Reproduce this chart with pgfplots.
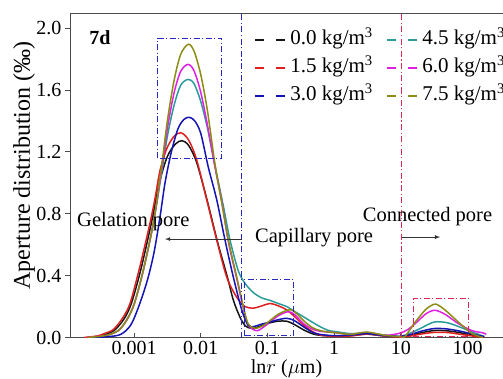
\documentclass[border=0pt]{standalone}
\usepackage{pgfplots}
\pgfplotsset{compat=1.18}
\usepackage{fontspec}
\setmainfont{Liberation Serif}
\definecolor{cBlack}{HTML}{151515}
\definecolor{cRed}{HTML}{E0201E}
\definecolor{cBlue}{HTML}{1414B4}
\definecolor{cTeal}{HTML}{2A9A9A}
\definecolor{cMag}{HTML}{E020E0}
\definecolor{cOlive}{HTML}{8C8C14}
\definecolor{cVBlue}{HTML}{2828C0}
\definecolor{cVRed}{HTML}{E02858}
\begin{document}
\begin{tikzpicture}
\useasboundingbox (-70pt,-40.5pt) rectangle (433pt,337.5pt);
\begin{axis}[
  at={(0,0)}, anchor=south west,
  width=433pt, height=324.5pt, scale only axis,
  xmin=-3.96, xmax=2.532, ymin=0, ymax=2.097,
  axis x line*=bottom, axis y line*=left,
  axis line style={-, draw=black!70, line width=0.8pt},
  xtick={-3,-2,-1,0,1,2},
  xticklabels={0.001,0.01,0.1,1,10,100},
  ytick={0,0.4,0.8,1.2,1.6,2.0},
  yticklabel style={/pgf/number format/.cd, fixed, fixed zerofill, precision=1, assume math mode=true},
  tick label style={font=\fontsize{20}{20}\selectfont},
  x tick style={draw=black!70, line width=0.8pt},
  y tick style={draw=black!70, line width=0.8pt},
  xtick align=inside, ytick align=outside,
  major tick length=5pt,
  xlabel={ln$r$ ($\mu$m)},
  xlabel style={font=\fontsize{20}{20}\selectfont, at={(axis description cs:0.5,-0.096)}, anchor=center},
  ylabel={Aperture distribution (‰)},
  ylabel style={font=\fontsize{24}{24}\selectfont, at={(axis description cs:-0.106,0.53)}, anchor=center},
  every axis plot/.append style={line width=1.5pt, smooth, tension=0.5},
  legend columns=2,
  legend style={draw=none, fill=none, at={(axis description cs:0.418,0.956)}, anchor=north west,
    font=\fontsize{21}{21}\selectfont,
    nodes={inner sep=1.5pt, text height=14pt, text depth=4pt},
    row sep=7pt,
    /tikz/every odd column/.style={column sep=3pt},
    /tikz/every even column/.style={column sep=12pt}},
  legend cell align=left,
  legend image code/.code={\draw[#1, solid, dash pattern=on 9pt off 12pt, line width=1.6pt] (0pt,0pt) -- (30pt,0pt);},
]
\addlegendimage{draw=cBlack}
\addlegendentry{0.0 kg/m\textsuperscript{3}}
\addlegendimage{draw=cTeal}
\addlegendentry{4.5 kg/m\textsuperscript{3}}
\addlegendimage{draw=cRed}
\addlegendentry{1.5 kg/m\textsuperscript{3}}
\addlegendimage{draw=cMag}
\addlegendentry{6.0 kg/m\textsuperscript{3}}
\addlegendimage{draw=cBlue}
\addlegendentry{3.0 kg/m\textsuperscript{3}}
\addlegendimage{draw=cOlive}
\addlegendentry{7.5 kg/m\textsuperscript{3}}
% 0.0 kg/m3
\addplot[cBlack, forget plot] coordinates {
(-3.7,0) (-3.5,0.01) (-3.3,0.045) (-3.15,0.12) (-3.04,0.22) (-2.9,0.436) (-2.74,0.74)
(-2.62,1.0) (-2.5,1.17) (-2.38,1.25) (-2.28,1.272) (-2.18,1.24)
(-2.06,1.13) (-1.9,0.88) (-1.75,0.62) (-1.6,0.39) (-1.51,0.24) (-1.41,0.13) (-1.33,0.075)
(-1.25,0.06) (-1.16,0.065) (-1.0,0.09) (-0.85,0.105) (-0.71,0.105) (-0.6,0.085) (-0.46,0.05)
(-0.33,0.025) (-0.21,0.014) (0.0,0.01) (0.25,0.012) (0.49,0.022) (0.75,0.01) (1.0,0.004)
(1.15,0.015) (1.3,0.03) (1.5,0.045) (1.7,0.043) (1.9,0.03) (2.1,0.012) (2.25,0.002)};
% 4.5 kg/m3
\addplot[cTeal, forget plot] coordinates {
(-3.7,0) (-3.5,0.008) (-3.36,0.02) (-3.22,0.05) (-3.1,0.12) (-2.995,0.22) (-2.86,0.436)
(-2.71,0.74) (-2.595,1.04) (-2.5,1.30) (-2.4,1.50) (-2.3,1.63)
(-2.19,1.668) (-2.1,1.64) (-2.0,1.526) (-1.9,1.355) (-1.786,1.11) (-1.661,0.85) (-1.561,0.63)
(-1.436,0.43) (-1.336,0.35) (-1.211,0.29) (-1.08,0.255) (-0.961,0.24) (-0.84,0.22) (-0.711,0.20)
(-0.58,0.165) (-0.46,0.134) (-0.33,0.10) (-0.211,0.07) (-0.08,0.045) (0.04,0.037) (0.25,0.025)
(0.49,0.03) (0.75,0.015) (1.0,0.008) (1.15,0.03) (1.3,0.06) (1.5,0.10) (1.7,0.095)
(1.9,0.065) (2.1,0.03) (2.25,0.008)};
% 1.5 kg/m3
\addplot[cRed, forget plot] coordinates {
(-3.75,0) (-3.55,0.01) (-3.45,0.025) (-3.315,0.05) (-3.18,0.12) (-3.06,0.22) (-2.925,0.436)
(-2.84,0.59) (-2.76,0.74) (-2.685,0.90) (-2.61,1.08) (-2.51,1.22) (-2.4,1.30) (-2.295,1.323)
(-2.18,1.275) (-2.06,1.147) (-1.91,0.889) (-1.76,0.63) (-1.61,0.39) (-1.46,0.26) (-1.336,0.20)
(-1.21,0.19) (-1.08,0.205) (-0.96,0.22) (-0.84,0.205) (-0.71,0.178) (-0.58,0.13) (-0.46,0.08)
(-0.33,0.04) (-0.21,0.016) (0.0,0.008) (0.25,0.01) (0.49,0.022) (0.75,0.01) (1.0,0.003)
(1.15,0.01) (1.3,0.022) (1.5,0.033) (1.7,0.032) (1.9,0.02) (2.1,0.008) (2.25,0)};
% 6.0 kg/m3
\addplot[cMag, forget plot] coordinates {
(-3.7,0) (-3.5,0.008) (-3.36,0.02) (-3.22,0.05) (-3.1,0.12) (-2.995,0.22) (-2.86,0.436)
(-2.71,0.74) (-2.595,1.06) (-2.5,1.35) (-2.4,1.58) (-2.3,1.72)
(-2.19,1.765) (-2.1,1.723) (-2.0,1.585) (-1.9,1.374) (-1.786,1.10) (-1.685,0.88) (-1.586,0.62)
(-1.46,0.38) (-1.361,0.19) (-1.291,0.08) (-1.16,0.044) (-1.05,0.07) (-0.96,0.10) (-0.84,0.14)
(-0.71,0.165) (-0.63,0.16) (-0.55,0.13) (-0.46,0.09) (-0.33,0.055) (-0.211,0.04) (-0.08,0.035)
(0.04,0.03) (0.25,0.02) (0.49,0.032) (0.75,0.015) (0.9,0.02) (1.0,0.03) (1.1,0.05)
(1.216,0.09) (1.366,0.15) (1.45,0.17) (1.528,0.175) (1.663,0.15) (1.862,0.09) (2.063,0.045)
(2.232,0.03) (2.28,0.02)};
% 3.0 kg/m3
\addplot[cBlue, forget plot] coordinates {
(-3.6,0) (-3.4,0.005) (-3.2,0.02) (-3.05,0.08) (-2.93,0.2) (-2.8,0.37) (-2.7,0.55) (-2.61,0.78)
(-2.535,1.0) (-2.44,1.2) (-2.34,1.35) (-2.25,1.41) (-2.171,1.423)
(-2.09,1.40) (-2.0,1.32) (-1.886,1.10) (-1.76,0.89) (-1.636,0.63) (-1.511,0.39) (-1.385,0.178)
(-1.291,0.08) (-1.21,0.07) (-1.1,0.085) (-0.96,0.10) (-0.84,0.115) (-0.71,0.124) (-0.6,0.11)
(-0.46,0.07) (-0.33,0.035) (-0.21,0.02) (0.0,0.012) (0.25,0.015) (0.49,0.025) (0.75,0.012)
(1.0,0.008) (1.15,0.02) (1.3,0.04) (1.5,0.058) (1.7,0.055) (1.9,0.04) (2.1,0.02) (2.25,0.005)};
% 7.5 kg/m3
\addplot[cOlive, forget plot] coordinates {
(-3.7,0) (-3.5,0.008) (-3.36,0.02) (-3.22,0.05) (-3.1,0.12) (-2.995,0.22) (-2.86,0.436)
(-2.71,0.74) (-2.595,1.08) (-2.5,1.40) (-2.4,1.66) (-2.3,1.83)
(-2.186,1.895) (-2.1,1.85) (-2.0,1.70) (-1.9,1.467) (-1.786,1.12) (-1.685,0.87) (-1.586,0.63)
(-1.46,0.39) (-1.361,0.2) (-1.291,0.09) (-1.21,0.062) (-1.16,0.06) (-1.05,0.08) (-0.96,0.11)
(-0.84,0.15) (-0.71,0.175) (-0.636,0.178) (-0.55,0.15) (-0.46,0.11) (-0.33,0.065) (-0.211,0.045)
(-0.08,0.035) (0.04,0.03) (0.25,0.02) (0.49,0.035) (0.75,0.015) (1.0,0.005) (1.066,0.008)
(1.216,0.10) (1.366,0.178) (1.45,0.205) (1.528,0.216) (1.663,0.178) (1.862,0.10) (2.063,0.027)
(2.232,0)};
% annotations
\draw[draw=cVBlue, line width=1.1pt, dash pattern=on 6pt off 2.5pt on 1.2pt off 2.5pt] (axis cs:-1.385,0) -- (axis cs:-1.385,2.097);
\draw[draw=cVRed, line width=1.1pt, dash pattern=on 6pt off 2.5pt on 1.2pt off 2.5pt] (axis cs:1.013,0) -- (axis cs:1.013,2.097);
\draw[draw=cVBlue, line width=0.9pt, dash pattern=on 6pt off 2.5pt on 1pt off 2.5pt] (axis cs:-2.645,1.158) rectangle (axis cs:-1.685,1.934);
\draw[draw=cVBlue, line width=0.9pt, dash pattern=on 6pt off 2.5pt on 1pt off 2.5pt] (axis cs:-1.35,0.012) rectangle (axis cs:-0.612,0.376);
\draw[draw=cVRed, line width=0.9pt, dash pattern=on 6pt off 2.5pt on 1pt off 2.5pt] (axis cs:1.187,0.01) rectangle (axis cs:2.012,0.253);
\draw[black!80, line width=0.8pt, -latex] (axis cs:-1.385,0.636) -- (axis cs:-2.535,0.636);
\draw[black!80, line width=0.8pt, -latex] (axis cs:1.02,0.649) -- (axis cs:1.59,0.649);
\node[anchor=west, inner sep=0pt, font=\fontsize{20.5}{20.5}\selectfont] at (axis cs:-3.855,0.746) {Gelation pore};
\node[inner sep=0pt, font=\fontsize{20.5}{20.5}\selectfont] at (axis cs:-0.301,0.643) {Capillary pore};
\node[inner sep=0pt, font=\fontsize{20.5}{20.5}\selectfont] at (axis cs:1.40,0.779) {Connected pore};
\node[inner sep=0pt, font=\fontsize{20}{20}\selectfont\bfseries] at (axis cs:-3.51,1.935) {7d};
\draw[black!70, line width=0.8pt] (rel axis cs:0,1) -- (rel axis cs:1,1);
\end{axis}
\end{tikzpicture}
\end{document}
